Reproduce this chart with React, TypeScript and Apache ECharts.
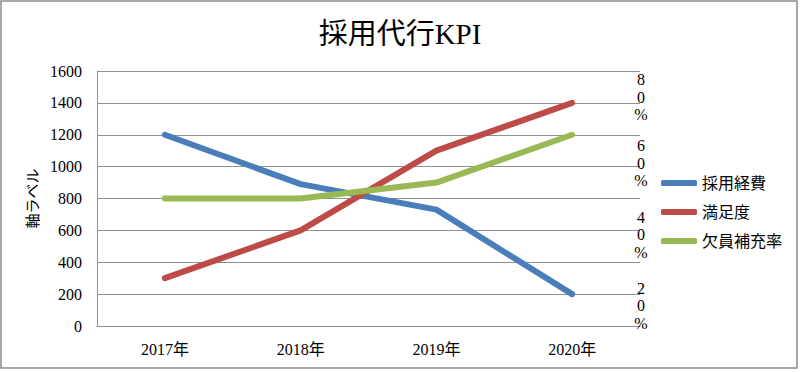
import React, { useEffect, useRef } from "react";
import * as echarts from "echarts";

const titleText = "採用代行KPI";
const categories = ["2017年", "2018年", "2019年", "2020年"];
const seriesNames = ["採用経費", "満足度", "欠員補充率"];
const recruitCost = [1200, 890, 730, 200];
const satisfaction = [0.15, 0.3, 0.55, 0.7];
const fillRate = [0.4, 0.4, 0.45, 0.6];
const leftAxisName = "軸ラベル";
const leftMin = 0;
const leftMax = 1600;
const leftInterval = 200;
const rightMin = 0;
const rightMax = 0.8;
const rightInterval = 0.2;

const SERIF = "'Liberation Serif', 'Noto Sans CJK JP', serif";
const SANS = "'Noto Sans CJK JP', 'Noto Sans', sans-serif";
const GRID_COLOR = "#8f8f8f";

// spacer heights for the vertically-stacked right labels (0 = none)
const spacer: Record<number, number> = { 80: 0, 60: 2, 40: 10, 20: 17 };

export default function App() {
  const ref = useRef<HTMLDivElement>(null);
  useEffect(() => {
    if (!ref.current) return;
    const chart = echarts.init(ref.current, undefined, { renderer: "svg" });
    const rich: Record<string, any> = {
      d: { fontSize: 16, lineHeight: 17.5, fontFamily: SERIF, color: "#000", align: "center" },
    };
    Object.keys(spacer).forEach((k) => {
      rich["s" + k] = { fontSize: 1, lineHeight: spacer[Number(k)], align: "center" };
    });
    chart.setOption({
      animation: false,
      backgroundColor: "#fff",
      title: {
        text: titleText,
        left: "center",
        top: 14,
        textStyle: { fontFamily: SERIF, fontSize: 29, fontWeight: "normal", color: "#000" },
      },
      graphic: [
        {
          type: "rect",
          shape: { x: 1, y: 1, width: 796, height: 367 },
          style: { fill: "none", stroke: "#8c8c8c", lineWidth: 1.5 },
          silent: true,
        },
      ],
      legend: {
        orient: "vertical",
        left: 656,
        top: 170,
        itemWidth: 36,
        itemHeight: 6,
        itemGap: 13,
        icon: "roundRect",
        textStyle: { fontFamily: SERIF, fontSize: 16, color: "#000" },
        data: seriesNames,
      },
      grid: { left: 97, right: 160, top: 71, bottom: 46, containLabel: false },
      xAxis: {
        type: "category",
        data: categories,
        boundaryGap: true,
        axisLine: { show: true, lineStyle: { color: GRID_COLOR, width: 1 } },
        axisTick: { show: false },
        axisLabel: { fontFamily: SERIF, fontSize: 16, color: "#000", margin: 15 },
      },
      yAxis: [
        {
          type: "value",
          min: leftMin,
          max: leftMax,
          interval: leftInterval,
          name: leftAxisName,
          nameLocation: "middle",
          nameRotate: 90,
          nameGap: 58,
          nameTextStyle: { fontFamily: SANS, fontSize: 15, color: "#000" },
          axisLine: { show: true, lineStyle: { color: GRID_COLOR, width: 1 } },
          axisTick: { show: false },
          splitLine: { show: true, lineStyle: { color: GRID_COLOR, width: 1 } },
          axisLabel: {
            fontFamily: SERIF,
            fontSize: 16,
            color: "#000",
            margin: 15,
            formatter: (v: number) => String(v),
          },
        },
        {
          type: "value",
          min: rightMin,
          max: rightMax,
          interval: rightInterval,
          position: "right",
          axisLine: { show: false },
          axisTick: { show: false },
          splitLine: { show: false },
          axisLabel: {
            margin: 1,
            align: "center",
            verticalAlign: "top",
            showMaxLabel: true,
            hideOverlap: false,
            rich,
            formatter: (v: number) => {
              const p = Math.round(v * 100);
              if (p === 0) return "";
              const chars = (String(p) + "%").split("");
              const body = chars.map((c) => `{d|${c}}`).join("\n");
              return spacer[p] ? `{s${p}| }\n` + body : body;
            },
          },
        },
      ],
      series: [
        {
          name: seriesNames[0],
          type: "line",
          yAxisIndex: 0,
          data: recruitCost,
          showSymbol: false,
          symbol: "none",
          color: "#4A7EBB",
          lineStyle: { width: 6, color: "#4A7EBB", cap: "round", join: "round" },
        },
        {
          name: seriesNames[1],
          type: "line",
          yAxisIndex: 1,
          data: satisfaction,
          showSymbol: false,
          symbol: "none",
          color: "#BE4B48",
          lineStyle: { width: 6, color: "#BE4B48", cap: "round", join: "round" },
        },
        {
          name: seriesNames[2],
          type: "line",
          yAxisIndex: 1,
          data: fillRate,
          showSymbol: false,
          symbol: "none",
          color: "#98B954",
          lineStyle: { width: 6, color: "#98B954", cap: "round", join: "round" },
        },
      ],
    });
    return () => chart.dispose();
  }, []);
  return (
    <div
      ref={ref}
      style={{ position: "fixed", left: 0, top: 0, width: 800, height: 372, background: "#fff" }}
    />
  );
}
